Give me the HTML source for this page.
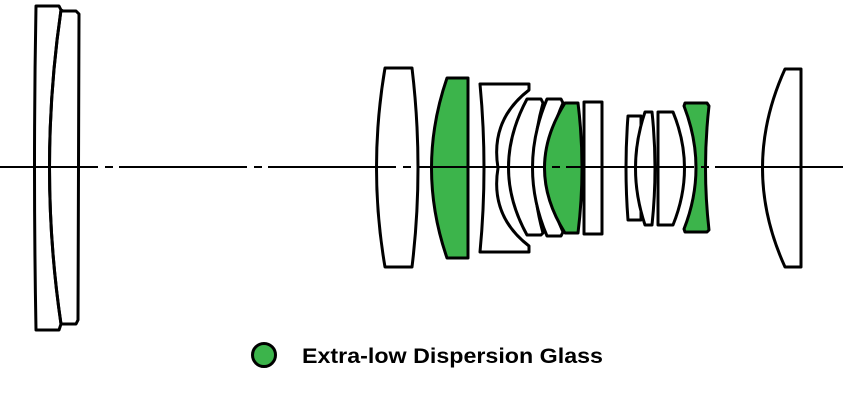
<!DOCTYPE html>
<html><head><meta charset="utf-8"><style>html,body{margin:0;padding:0;background:#fff}svg{display:block}</style></head>
<body>
<svg width="850" height="408" viewBox="0 0 850 408" xmlns="http://www.w3.org/2000/svg">
<g stroke="#000" stroke-width="3" stroke-linejoin="round" fill="#fff">
<path d="M36,6 L59,6 L61,10 Q38,168 61,324 L59,330 L36,330 Q33,168 36,6 Z" fill="none"/>
<path d="M61,10 L63,11 L76,11 L79,14 L78,320 L76,324 L62,324 L61,324 Q38,168 61,10 Z" fill="none"/>
<path d="M385,68 L412,68 Q424,168 412,267 L385,267 Q368,168 385,68 Z"/>
<path d="M447,78 L468,78 L468,258 L447,258 Q416,168 447,78 Z" fill="#3cb44b"/>
<path d="M480,84 L529,84 L529,90 Q490,120 498,168 Q490,216 529,246 L529,252 L480,252 Q488,168 480,84 Z"/>
<path d="M527,99 L541,99 L543,103 Q525,168 543,233 L541,235 L527,235 Q490,168 527,99 Z"/>
<path d="M547,99 L561,99 L563,103 Q534,168 563,232 L561,236 L547,236 Q518,168 547,99 Z"/>
<path d="M565,103 L578,103 Q586,168 578,233 L565,233 Q524,168 565,103 Z" fill="#3cb44b"/>
<rect x="584" y="102" width="18" height="132"/>
<path d="M628,116 L641,116 L641,220 L628,220 Q624,168 628,116 Z"/>
<path d="M645,112 L652,112 Q658,168 652,225 L645,225 Q626,168 645,112 Z"/>
<path d="M658,112 L673,112 Q696,168 673,225 L658,225 Z"/>
<path d="M685,103 L707,103 L709,106 Q702,168 709,230 L707,232 L685,232 L684,229 Q708,168 684,106 Z" fill="#3cb44b"/>
<path d="M785,69 L801,69 L801,267 L785,267 Q740,168 785,69 Z"/>
</g>
<line x1="0" y1="167" x2="850" y2="167" stroke="#000" stroke-width="2" stroke-dasharray="128 7 8 6" stroke-dashoffset="30"/>
<circle cx="264" cy="355" r="11.5" fill="#3cb44b" stroke="#000" stroke-width="3"/>
<text x="302" y="363" font-family="Liberation Sans, sans-serif" font-weight="bold" font-size="21" textLength="301" lengthAdjust="spacingAndGlyphs">Extra-low Dispersion Glass</text>
</svg>
</body></html>
